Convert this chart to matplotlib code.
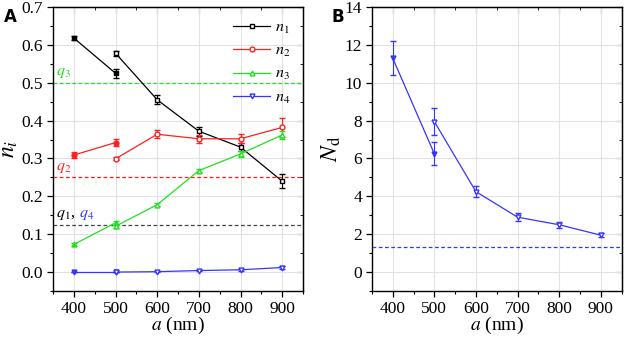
import numpy as np
import matplotlib.pyplot as plt
from matplotlib.ticker import MultipleLocator, FormatStrFormatter
from matplotlib.lines import Line2D

plt.rcParams['font.family'] = 'Liberation Serif'
plt.rcParams['mathtext.fontset'] = 'stix'

# data
a_fill = [400, 500]
a_open = [500, 600, 700, 800, 900]

n1_fill = [0.618, 0.525]
n1_fill_err = [0.005, 0.012]
n1_open = [0.578, 0.455, 0.372, 0.330, 0.240]
n1_open_err = [0.007, 0.012, 0.012, 0.010, 0.018]

n2_fill = [0.309, 0.342]
n2_fill_err = [0.008, 0.010]
n2_open = [0.299, 0.364, 0.352, 0.352, 0.382]
n2_open_err = [0.004, 0.010, 0.010, 0.012, 0.025]

n3_fill = [0.073, 0.130]
n3_fill_err = [0.004, 0.005]
n3_open = [0.121, 0.178, 0.268, 0.312, 0.362]
n3_open_err = [0.004, 0.004, 0.005, 0.008, 0.010]

n4_fill = [0.000, 0.000]
n4_fill_err = [0.001, 0.001]
n4_open = [0.000, 0.001, 0.004, 0.006, 0.012]
n4_open_err = [0.001, 0.001, 0.002, 0.002, 0.003]

q1 = 0.125
q2 = 0.25
q3 = 0.5
q4 = 0.125

Nd_fill = [11.3, 6.25]
Nd_fill_err = [0.9, 0.6]
Nd_open = [7.95, 4.25, 2.9, 2.5, 1.95]
Nd_open_err = [0.7, 0.3, 0.2, 0.15, 0.1]
Nd_ref = 4 / 3

black = 'black'
red = '#ff2020'
green = '#22e022'
blue = '#3535ff'

fig = plt.figure(figsize=(6.24, 3.37), dpi=100)
axA = fig.add_axes([0.085, 0.1365, 0.4006, 0.8427])
axB = fig.add_axes([0.596, 0.1365, 0.400, 0.8427])


def style_axes(ax, ymaj, ymin):
    ax.set_xlim(350, 950)
    ax.xaxis.set_major_locator(MultipleLocator(100))
    ax.xaxis.set_minor_locator(MultipleLocator(50))
    ax.yaxis.set_major_locator(MultipleLocator(ymaj))
    ax.yaxis.set_minor_locator(MultipleLocator(ymin))
    ax.grid(True, which='major', color='#e2e2e2', lw=0.8)
    ax.set_axisbelow(True)
    ax.tick_params(which='major', direction='out', length=4, width=0.9, labelsize=12.5, pad=3)
    ax.tick_params(which='minor', direction='out', length=2.5, width=0.8)
    for s in ax.spines.values():
        s.set_linewidth(1.0)
    # mirrored ticks (inward) on top and right
    top = ax.secondary_xaxis('top')
    top.xaxis.set_major_locator(MultipleLocator(100))
    top.xaxis.set_minor_locator(MultipleLocator(50))
    top.tick_params(which='major', direction='in', length=4, labeltop=False)
    top.tick_params(which='minor', direction='in', length=2.5)
    right = ax.secondary_yaxis('right')
    right.yaxis.set_major_locator(MultipleLocator(ymaj))
    right.yaxis.set_minor_locator(MultipleLocator(ymin))
    right.tick_params(which='major', direction='in', length=4, labelright=False)
    right.tick_params(which='minor', direction='in', length=2.5)
    ax.set_xlabel(r'$a$ (nm)', fontsize=14, labelpad=-1)


def plot_series(ax, yf, ef, yo, eo, color, marker):
    ax.errorbar(a_fill, yf, yerr=ef, color=color, marker=marker, ms=3.5,
                mfc=color, mec=color, lw=0.9, capsize=2, elinewidth=0.8, zorder=3)
    ax.errorbar(a_open, yo, yerr=eo, color=color, marker=marker, ms=3.5,
                mfc='white', mec=color, lw=0.9, capsize=2, elinewidth=0.8,
                ecolor=color, zorder=3)


# panel A
style_axes(axA, 0.1, 0.05)
axA.set_ylim(-0.05, 0.7)
axA.yaxis.set_major_formatter(FormatStrFormatter('%.1f'))

axA.axhline(q3, color=green, ls='--', lw=0.9, dashes=(3, 2))
axA.axhline(q2, color=red, ls='--', lw=0.9, dashes=(3, 2))
axA.axhline(q1, color='#444444', ls='--', lw=0.9, dashes=(3, 2))

plot_series(axA, n1_fill, n1_fill_err, n1_open, n1_open_err, black, 's')
plot_series(axA, n2_fill, n2_fill_err, n2_open, n2_open_err, red, 'o')
plot_series(axA, n3_fill, n3_fill_err, n3_open, n3_open_err, green, '^')
plot_series(axA, n4_fill, n4_fill_err, n4_open, n4_open_err, blue, 'v')

axA.text(357, q3 + 0.006, r'$q_3$', color=green, fontsize=11.5, va='bottom')
axA.text(357, q2 + 0.006, r'$q_2$', color=red, fontsize=11.5, va='bottom')
t1 = axA.text(357, q1 + 0.006, r'$q_1$,', color=black, fontsize=11.5, va='bottom')
axA.annotate(r'$q_4$', xy=(1, 0), xycoords=t1, xytext=(2.5, 0),
             textcoords='offset points', color=blue, fontsize=11.5, va='bottom')

handles = [Line2D([], [], color=c, marker=m, ms=3.5, mfc='white', mec=c, lw=0.9)
           for c, m in [(black, 's'), (red, 'o'), (green, '^'), (blue, 'v')]]
labels = [r'$n_1$', r'$n_2$', r'$n_3$', r'$n_4$']
axA.legend(handles, labels, loc='upper right', frameon=False, fontsize=11.5,
           handlelength=2.3, labelspacing=0.45, borderaxespad=0.4, handletextpad=0.3)
axA.set_ylabel(r'$n_i$', fontsize=17, labelpad=1)
fig.text(0.006, 0.975, 'A', fontsize=12, fontweight='bold', family='DejaVu Sans', va='top')

# panel B
style_axes(axB, 2, 1)
axB.set_ylim(-1, 14)
axB.axhline(Nd_ref, color=blue, ls='--', lw=0.9, dashes=(3, 2))
plot_series(axB, Nd_fill, Nd_fill_err, Nd_open, Nd_open_err, blue, 'v')
axB.set_ylabel(r'$N_\mathrm{d}$', fontsize=17, labelpad=1)
fig.text(0.532, 0.975, 'B', fontsize=12, fontweight='bold', family='DejaVu Sans', va='top')

fig.savefig('out.png', dpi=100)
